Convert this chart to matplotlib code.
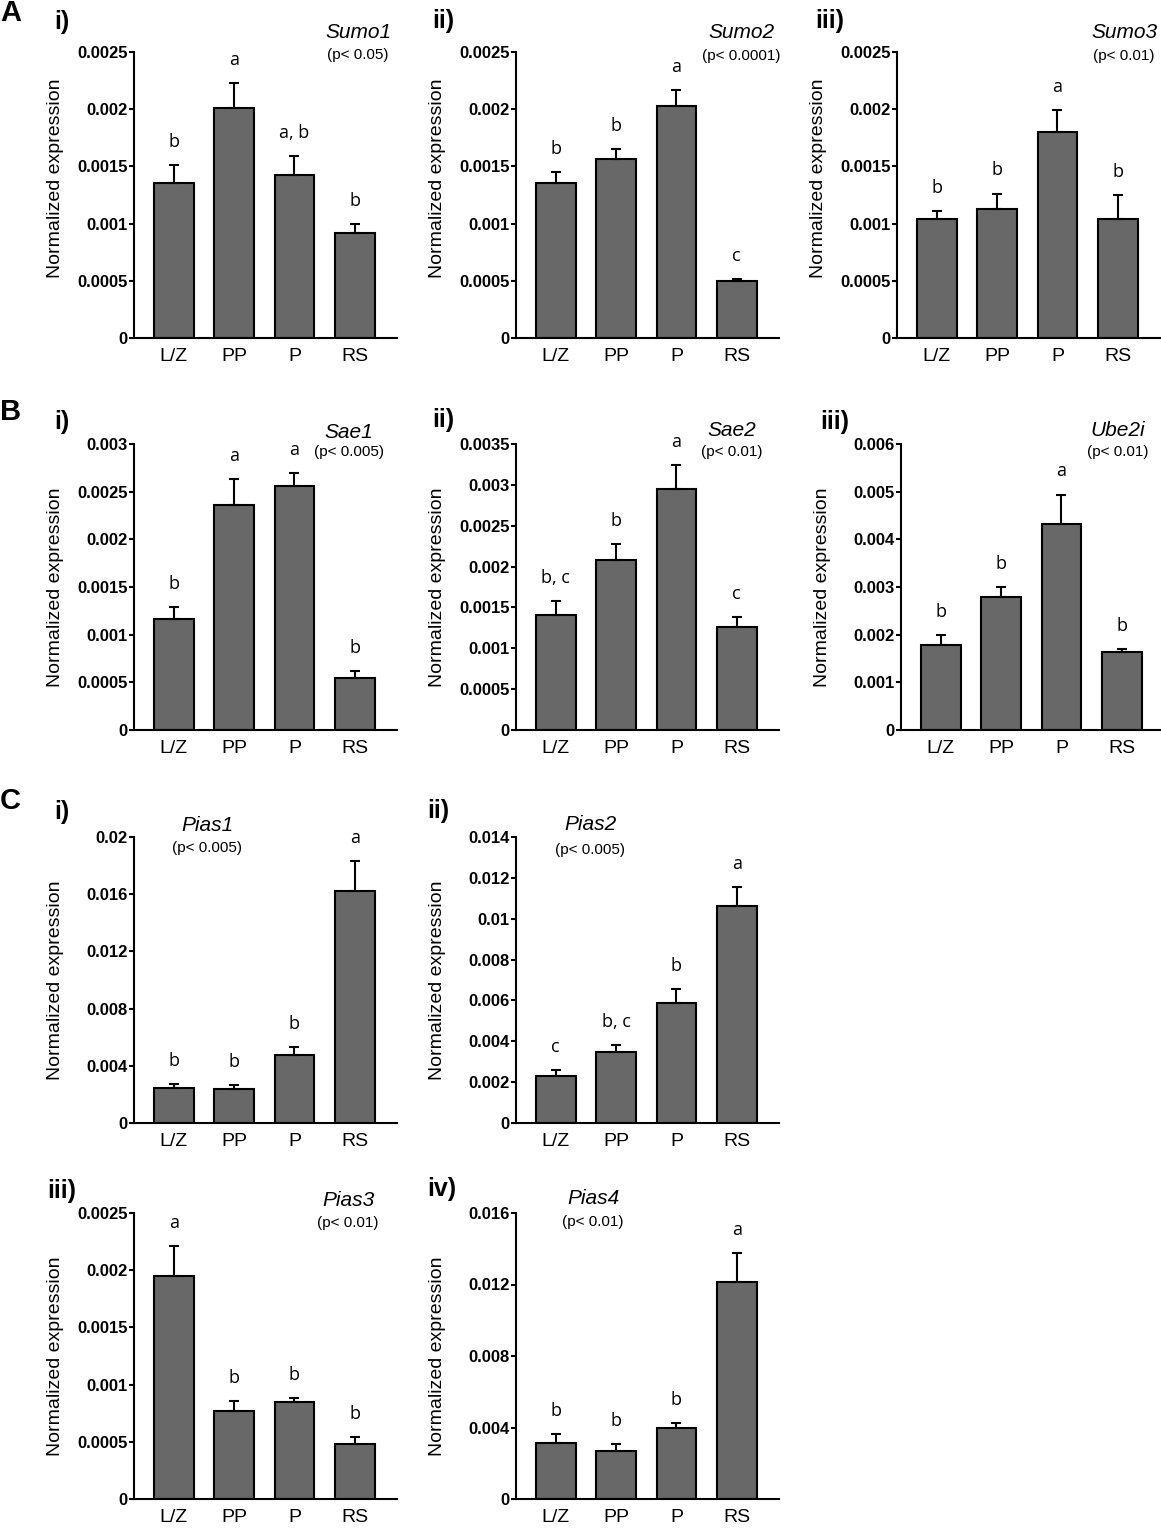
import numpy as np
import matplotlib
matplotlib.use("Agg")
import matplotlib.pyplot as plt

W, H = 1161, 1532

groups = ["L/Z", "PP", "P", "RS"]

# means and upper SEM
sumo1_mean = [0.001355, 0.00201, 0.001422, 0.000918]
sumo1_err = [0.00016, 0.000222, 0.000169, 0.000079]
sumo1_sig = ["b", "a", "a, b", "b"]

sumo2_mean = [0.001356, 0.001561, 0.002027, 0.000496]
sumo2_err = [0.000097, 0.000087, 0.00014, 0.00002]
sumo2_sig = ["b", "b", "a", "c"]

sumo3_mean = [0.001036, 0.001129, 0.001797, 0.001038]
sumo3_err = [0.000075, 0.000134, 0.000198, 0.000211]
sumo3_sig = ["b", "b", "a", "b"]

sae1_mean = [0.001165, 0.002361, 0.002557, 0.000541]
sae1_err = [0.000125, 0.000269, 0.000143, 0.000073]
sae1_sig = ["b", "a", "a", "b"]

sae2_mean = [0.001404, 0.00208, 0.002951, 0.001262]
sae2_err = [0.000171, 0.000199, 0.000293, 0.000126]
sae2_sig = ["b, c", "b", "a", "c"]

ube2i_mean = [0.001786, 0.002798, 0.004319, 0.001633]
ube2i_err = [0.00021, 0.000202, 0.000621, 0.00007]
ube2i_sig = ["b", "b", "a", "b"]

pias1_mean = [0.00247, 0.00238, 0.00478, 0.01625]
pias1_err = [0.00026, 0.00028, 0.00051, 0.00205]
pias1_sig = ["b", "b", "b", "a"]

pias2_mean = [0.0023, 0.00348, 0.00587, 0.01064]
pias2_err = [0.00031, 0.00034, 0.00071, 0.00091]
pias2_sig = ["c", "b, c", "b", "a"]

pias3_mean = [0.001948, 0.000767, 0.000852, 0.000483]
pias3_err = [0.000267, 0.000091, 0.000032, 0.000061]
pias3_sig = ["a", "b", "b", "b"]

pias4_mean = [0.00313, 0.00269, 0.00399, 0.01216]
pias4_err = [0.00051, 0.00037, 0.00028, 0.00161]
pias4_sig = ["b", "b", "b", "a"]

SANS = "Liberation Sans"
LETTER_FONT = "Open Sans"

fig = plt.figure(figsize=(W / 100, H / 100), dpi=100)


def ftext(x, y, s, **kw):
    fig.text(x / W, 1 - y / H, s, **kw)


def panel(left, top, gene, pval, means, errs, sig, ymax, ystep, gx, gy, py, label_y=0.5):
    ax = fig.add_axes([left / W, 1 - (top + 286) / H, 263 / W, 286 / H])
    x = np.arange(len(groups))
    ax.bar(x, means, width=0.66, color="#686868", edgecolor="black",
           linewidth=1.5, zorder=2)
    ax.errorbar(x, means, yerr=[np.zeros(len(errs)), errs], fmt="none",
                ecolor="black", elinewidth=1.5, capsize=3.5, capthick=1.5, zorder=3)
    for i in range(len(groups)):
        ax.annotate(sig[i], (x[i], means[i] + errs[i]), xytext=(0, 13),
                    textcoords="offset points", ha="center", va="baseline",
                    fontsize=13, family=LETTER_FONT)

    ax.set_xlim(-0.66, 3.7)
    ax.set_ylim(0, ymax)
    ticks = np.arange(0, ymax + ystep / 2, ystep)
    ax.set_yticks(ticks, labels=["{:g}".format(round(t, 6)) for t in ticks],
                  fontweight="bold", fontsize=12, family=SANS)
    ax.set_xticks(x, labels=groups, fontsize=14, family=SANS)
    ax.tick_params(axis="y", direction="out", length=3.6, width=1.5, pad=1)
    ax.tick_params(axis="x", length=0, pad=7)
    for s in ["top", "right"]:
        ax.spines[s].set_visible(False)
    for s in ["left", "bottom"]:
        ax.spines[s].set_linewidth(1.5)
    ax.set_ylabel("Normalized expression", fontsize=14, family=SANS)
    ax.yaxis.set_label_coords(-0.265, label_y)

    ftext(gx, gy, gene, fontsize=15, style="italic", family=SANS, ha="center", va="center")
    ftext(gx, py, pval, fontsize=11, family=SANS, ha="center", va="center")
    return ax


# row A
panel(134, 52, "Sumo1", "(p< 0.05)", sumo1_mean, sumo1_err, sumo1_sig, 0.0025, 0.0005, 358, 33, 55, 0.56)
panel(516, 52, "Sumo2", "(p< 0.0001)", sumo2_mean, sumo2_err, sumo2_sig, 0.0025, 0.0005, 741, 33, 56, 0.56)
panel(897, 52, "Sumo3", "(p< 0.01)", sumo3_mean, sumo3_err, sumo3_sig, 0.0025, 0.0005, 1124, 33, 56, 0.56)

# row B
panel(134, 444, "Sae1", "(p< 0.005)", sae1_mean, sae1_err, sae1_sig, 0.003, 0.0005, 349, 432, 452)
panel(516, 444, "Sae2", "(p< 0.01)", sae2_mean, sae2_err, sae2_sig, 0.0035, 0.0005, 732, 430, 452)
panel(901, 444, "Ube2i", "(p< 0.01)", ube2i_mean, ube2i_err, ube2i_sig, 0.006, 0.001, 1118, 430, 452)

# row C
panel(134, 837, "Pias1", "(p< 0.005)", pias1_mean, pias1_err, pias1_sig, 0.02, 0.004, 207, 825, 848)
panel(516, 837, "Pias2", "(p< 0.005)", pias2_mean, pias2_err, pias2_sig, 0.014, 0.002, 590, 824, 850)
panel(134, 1213, "Pias3", "(p< 0.01)", pias3_mean, pias3_err, pias3_sig, 0.0025, 0.0005, 348, 1200, 1223)
panel(516, 1213, "Pias4", "(p< 0.01)", pias4_mean, pias4_err, pias4_sig, 0.016, 0.004, 593, 1198, 1222)

# panel letters
for s, y in [("A", 13), ("B", 412), ("C", 801)]:
    ftext(0, y, s, fontsize=21, fontweight="bold", family=SANS, ha="left", va="center")

for s, xx, yy in [("i)", 54, 22), ("ii)", 432, 21), ("iii)", 815, 21),
                  ("i)", 54, 422), ("ii)", 432, 420), ("iii)", 820, 422),
                  ("i)", 54, 812), ("ii)", 427, 811), ("iii)", 47, 1191), ("iv)", 427, 1189)]:
    ftext(xx, yy, s, fontsize=18, fontweight="bold", family=SANS, ha="left", va="center")

fig.savefig("out.png", dpi=100)
